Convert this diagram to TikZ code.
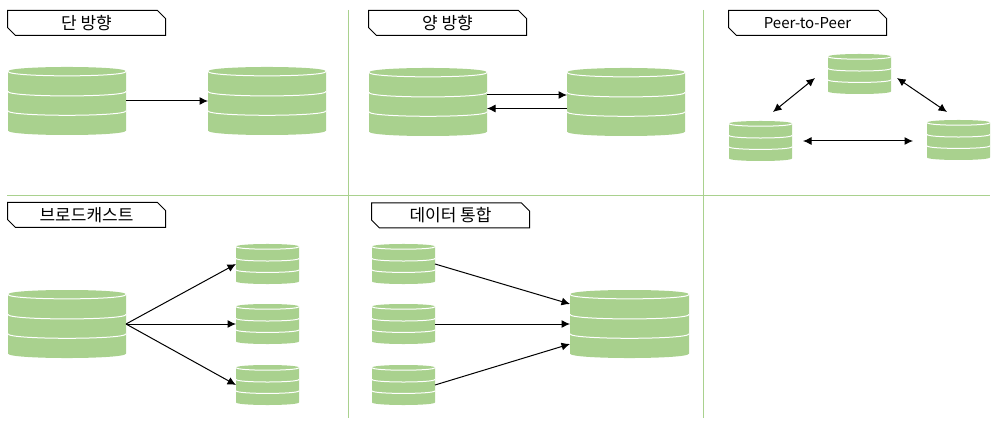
\documentclass[tikz,border=0pt]{standalone}
\usepackage{fontspec}
\usepackage{xcolor}
\usetikzlibrary{arrows.meta}
\usetikzlibrary{shapes.misc}
\setmainfont{Noto Sans CJK KR}
\definecolor{dbgreen}{HTML}{A9D18E}

\begin{document}
\begin{tikzpicture}[x=1pt,y=-1pt]
\tikzset{dbstack/.style 2 args={anchor=north west,inner sep=0pt,outer sep=0pt,minimum width=#1,minimum height=#2,
  path picture={
    \begin{scope}[x=#1,y=#2]
      \fill[dbgreen] (-.5,.435) .. controls (-.5,.522) and (.5,.522) .. (.5,.435) -- (.5,-.435)
        .. controls (.5,-.522) and (-.5,-.522) .. (-.5,-.435) -- cycle;
      \draw[white,line width=1pt] (-.5,.435) .. controls (-.5,.348) and (.5,.348) .. (.5,.435);
      \draw[white,line width=1pt] (-.5,.14) .. controls (-.5,.053) and (.5,.053) .. (.5,.14);
      \draw[white,line width=1pt] (-.5,-.145) .. controls (-.5,-.232) and (.5,-.232) .. (.5,-.145);
    \end{scope}}}}
\tikzset{dbbig/.style={dbstack={118pt}{68pt}}}
\tikzset{dbsmall/.style={dbstack={63pt}{40pt}}}
\tikzset{titlebox/.style={draw,line width=1pt,anchor=north west,inner sep=0pt,outer sep=0pt,minimum width=158pt,minimum height=25pt,
  chamfered rectangle,chamfered rectangle corners={north east,south west},chamfered rectangle xsep=4pt,chamfered rectangle ysep=4pt,
  font=\fontsize{17pt}{18pt}\selectfont}}
\tikzset{link/.style={line width=1pt,-{Latex[length=8.5pt,width=8pt]}}}
\tikzset{biglink/.style={line width=1pt,{Latex[length=8.5pt,width=8pt]}-{Latex[length=8.5pt,width=8pt]}}}
\tikzset{divider/.style={dbgreen,line width=1pt}}

\useasboundingbox (0,0) rectangle (1003,430);

% dividers
\draw[divider] (348,10) -- (348,418);
\draw[divider] (703.5,10) -- (703.5,418);
\draw[divider] (7,195.5) -- (990,195.5);

% titles
\node[titlebox] (titleOne) at (7.5,10.5) {단 방향};
\node[titlebox] (titleTwo) at (368.5,10.5) {양 방향};
\node[titlebox,font=\fontsize{15pt}{16pt}\selectfont] (titlePeer) at (728.5,10.5) {Peer-to-Peer};
\node[titlebox] (titleCast) at (7.5,202.5) {브로드캐스트};
\node[titlebox] (titleMerge) at (371.5,203) {데이터 통합};

% one way
\node[dbbig] (oneA) at (8,67) {};
\node[dbbig] (oneB) at (208,67) {};
\draw[link] (oneA.east) -- (oneB.west);

% two way
\node[dbbig] (twoA) at (369,68) {};
\node[dbbig] (twoB) at (567,68) {};
\draw[link] ([yshift=7pt]twoA.east) -- ([yshift=7pt]twoB.west);
\draw[link] ([yshift=-6.5pt]twoB.west) -- ([yshift=-6.5pt]twoA.east);

% peer to peer
\node[dbsmall] (peerTop) at (828,54) {};
\node[dbsmall] (peerLeft) at (729,121) {};
\node[dbsmall] (peerRight) at (927,120) {};
\draw[biglink] ([shift={(-13,4)}]peerTop.west) -- ([shift={(12.5,-9)}]peerLeft.north);
\draw[biglink] ([shift={(6,4)}]peerTop.east) -- ([shift={(-11.5,-8)}]peerRight.north);
\draw[biglink] ([xshift=11pt]peerLeft.east) -- ([shift={(-14,1)}]peerRight.west);

% broadcast
\node[dbbig] (castSrc) at (8,290) {};
\node[dbsmall] (castA) at (236,244) {};
\node[dbsmall] (castB) at (236,304) {};
\node[dbsmall] (castC) at (236,365) {};
\draw[link] (castSrc.east) -- (castA.west);
\draw[link] (castSrc.east) -- (castB.west);
\draw[link] (castSrc.east) -- (castC.west);

% merge
\node[dbsmall] (mergeA) at (372,244) {};
\node[dbsmall] (mergeB) at (372,304) {};
\node[dbsmall] (mergeC) at (372,365) {};
\node[dbstack={119pt}{68pt}] (mergeDst) at (570,290) {};
\draw[link] (mergeA.east) -- ([yshift=20pt]mergeDst.west);
\draw[link] (mergeB.east) -- (mergeDst.west);
\draw[link] (mergeC.east) -- ([yshift=-20pt]mergeDst.west);

\end{tikzpicture}
\end{document}
